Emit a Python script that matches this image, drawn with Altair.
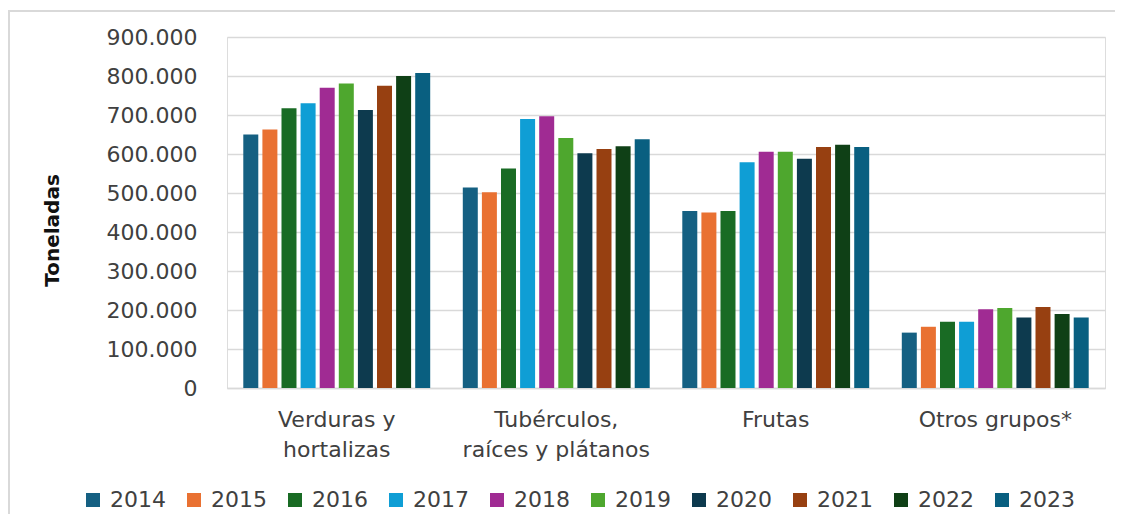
import altair as alt
import pandas as pd

categories = ["Verduras y\nhortalizas", "Tubérculos,\nraíces y plátanos", "Frutas", "Otros grupos*"]
years = ["2014", "2015", "2016", "2017", "2018", "2019", "2020", "2021", "2022", "2023"]
verduras = [650000, 663000, 717000, 730000, 770000, 781000, 713000, 775000, 800000, 808000]
tuberculos = [514000, 502000, 563000, 690000, 697000, 641000, 602000, 613000, 620000, 638000]
frutas = [454000, 450000, 454000, 579000, 606000, 606000, 588000, 618000, 624000, 618000]
otros = [142000, 157000, 170000, 170000, 202000, 205000, 181000, 208000, 190000, 181000]
colors = ["#156082", "#E97132", "#196B24", "#0F9ED5", "#A02B93",
          "#4EA72E", "#0D3A4E", "#974011", "#0F4016", "#095F80"]
y_ticks = [0, 100000, 200000, 300000, 400000, 500000, 600000, 700000, 800000, 900000]

rows = []
for cat, vals in zip(categories, [verduras, tuberculos, frutas, otros]):
    for yr, v in zip(years, vals):
        rows.append({"Categoria": cat, "Año": yr, "Toneladas": v})
df = pd.DataFrame(rows)

FONT = "DejaVu Sans"
GRID = "#d9d9d9"

bars = alt.Chart(df).mark_bar().encode(
    x=alt.X("Categoria:N", sort=categories,
            scale=alt.Scale(paddingInner=0, paddingOuter=0),
            axis=alt.Axis(title=None, labelAngle=0, labelExpr="split(datum.label, '\\n')",
                          ticks=False, domain=True, domainColor=GRID, domainWidth=1.5,
                          labelPadding=21, labelFontSize=22, labelLineHeight=30,
                          labelLimit=500,
                          labelColor="#404040", labelFont=FONT, grid=False)),
    xOffset=alt.XOffset("Año:N", sort=years,
                        scale=alt.Scale(paddingInner=0.215, paddingOuter=0.853)),
    y=alt.Y("Toneladas:Q", scale=alt.Scale(domain=[0, 900000], nice=False),
            axis=alt.Axis(title="Toneladas", values=y_ticks,
                          labelExpr="replace(format(datum.value, ',.0f'), /,/g, '.')",
                          grid=True, gridColor=GRID, gridWidth=1.5,
                          domain=False, ticks=False, labelPadding=30,
                          labelFontSize=22, labelColor="#404040", labelFont=FONT,
                          titleFont=FONT, titleFontSize=20, titleFontWeight="bold",
                          titleColor="#111111", titleX=-175, titleY=193,
                          titleAlign="center", titleBaseline="middle", titleAngle=270)),
    color=alt.Color("Año:N", sort=years,
                    scale=alt.Scale(domain=years, range=colors),
                    legend=alt.Legend(title=None, orient="none", legendX=-145, legendY=452,
                                      direction="horizontal", columns=10,
                                      symbolType="square", symbolSize=196,
                                      symbolStrokeWidth=0, labelFontSize=22,
                                      labelFont=FONT, labelColor="#404040",
                                      labelOffset=6, columnPadding=17, padding=0)),
)

frame_df = pd.DataFrame({"a": [0]})
left_rule = alt.Chart(frame_df).mark_rule(color=GRID, strokeWidth=2).encode(
    x=alt.value(-218), y=alt.value(-26), y2=alt.value(480))
top_rule = alt.Chart(frame_df).mark_rule(color=GRID, strokeWidth=2).encode(
    x=alt.value(-219), x2=alt.value(888), y=alt.value(-26))

chart = alt.layer(bars, left_rule, top_rule).properties(
    width=878, height=351,
    autosize=alt.AutoSizeParams(type="none"),
    padding={"left": 219, "top": 29, "right": 10, "bottom": 126},
).configure_view(stroke=None).configure(font=FONT)

chart.save("out.html", embed_options={"renderer": "svg", "actions": False})
